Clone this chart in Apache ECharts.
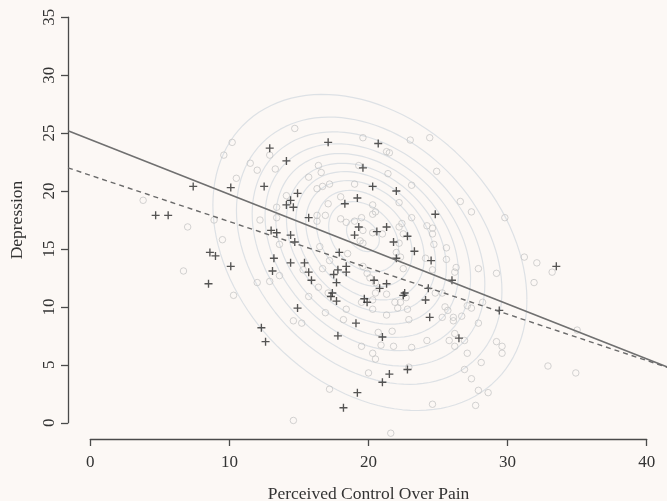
<!DOCTYPE html>
<html><head><meta charset="utf-8">
<script src="https://cdn.jsdelivr.net/npm/echarts@6/dist/echarts.min.js"></script>
<style>html,body{margin:0;padding:0;background:#fcf8f5}#c{width:667px;height:501px}</style>
</head><body><div id="c"></div>
<script>
const xTicks = [0, 10, 20, 30, 40];
const yTicks = [0, 5, 10, 15, 20, 25, 30, 35];
const xName = 'Perceived Control Over Pain';
const yName = 'Depression';
// plotting region (data units) around the axes
const xRegion = [-1.6, 41.6];
const yRegion = [-1.4, 36.4];

// dark "+" observations
const plusPoints = [[4.7,17.9],[5.6,17.9],[7.4,20.4],[8.6,14.7],[9.0,14.4],[8.5,12.0],[10.1,13.5],[10.1,20.3],[12.5,20.4],[12.9,23.7],[14.1,22.6],[14.9,19.8],[14.4,19.2],[14.1,18.8],[14.6,18.6],[15.7,17.7],[13.0,16.6],[13.4,16.4],[14.4,16.2],[14.7,15.6],[13.2,14.2],[14.4,13.8],[15.4,13.8],[13.1,13.1],[15.7,13.0],[15.9,12.3],[14.9,9.9],[12.3,8.2],[12.6,7.0],[17.1,24.2],[20.7,24.1],[19.6,22.0],[20.3,20.4],[22.0,20.0],[19.2,19.4],[18.3,18.9],[24.8,18.0],[19.3,16.9],[21.3,16.9],[19.0,16.2],[20.6,16.5],[22.8,16.1],[21.8,15.6],[23.3,14.8],[17.9,14.7],[22.0,14.2],[24.5,14.0],[18.4,13.5],[18.4,13.0],[17.8,13.2],[17.5,12.8],[17.7,12.1],[20.4,12.3],[21.3,12.0],[20.8,11.6],[17.4,11.2],[17.3,10.9],[17.7,10.5],[19.7,10.7],[19.9,10.4],[22.6,11.2],[22.5,11.0],[24.1,10.6],[24.3,11.6],[26.0,12.3],[24.4,9.1],[26.5,7.3],[29.4,9.7],[33.5,13.5],[19.1,8.6],[17.8,7.5],[21.0,7.4],[21.5,4.2],[22.8,4.6],[21.0,3.5],[19.2,2.6],[18.2,1.3]];

// light open-circle observations
const openPoints = [[3.8,19.2],[7.0,16.9],[8.9,17.5],[9.6,23.1],[9.5,15.8],[6.7,13.1],[10.2,24.2],[14.7,25.4],[12.9,23.1],[11.5,22.4],[12.0,21.8],[13.3,21.9],[10.5,21.1],[14.1,19.6],[13.4,18.6],[15.7,21.2],[13.4,17.7],[12.2,17.5],[13.6,15.4],[10.3,11.0],[12.0,12.1],[12.9,12.2],[13.6,12.7],[14.6,8.8],[15.2,8.6],[14.6,0.2],[17.2,2.9],[19.6,24.6],[23.0,24.4],[24.4,24.6],[21.3,23.4],[21.5,23.3],[16.4,22.2],[19.3,22.2],[16.6,21.6],[21.4,21.5],[24.9,21.7],[16.3,20.2],[16.7,20.4],[17.2,20.6],[19.0,20.6],[23.1,20.5],[18.0,19.5],[22.2,19.0],[17.1,18.9],[20.3,18.8],[20.5,18.2],[20.3,18.0],[16.3,17.9],[16.9,17.9],[16.3,17.4],[18.0,17.6],[18.4,17.3],[19.5,17.7],[19.0,17.4],[23.1,17.7],[24.2,17.0],[24.6,16.8],[22.4,17.2],[22.2,16.9],[19.6,16.6],[20.3,16.4],[21.0,16.3],[22.5,16.3],[24.6,16.3],[19.4,15.7],[19.6,15.5],[22.2,15.5],[24.7,15.4],[16.5,15.2],[18.5,14.6],[22.0,14.7],[22.3,14.3],[25.6,15.1],[25.6,14.1],[17.2,14.0],[19.6,13.5],[22.5,13.3],[24.1,14.2],[26.6,19.1],[27.4,18.2],[29.8,17.7],[31.2,14.3],[32.1,13.8],[33.2,13.0],[31.9,12.1],[27.9,13.3],[29.2,12.9],[26.3,13.4],[26.2,13.0],[24.6,13.2],[24.8,11.2],[25.3,11.2],[25.5,10.0],[25.7,9.7],[27.1,10.1],[27.4,9.9],[28.2,10.4],[26.7,9.2],[26.1,9.1],[26.1,8.8],[25.3,9.1],[27.9,8.6],[26.2,7.7],[25.8,7.1],[24.2,7.1],[26.2,6.6],[26.9,7.1],[29.2,7.0],[29.6,6.6],[29.6,6.0],[27.1,6.0],[28.1,5.2],[32.9,4.9],[34.9,4.3],[35.0,8.0],[26.9,4.6],[27.4,3.8],[27.9,2.8],[28.6,2.6],[24.6,1.6],[27.7,1.5],[15.3,13.2],[16.7,13.3],[16.4,11.7],[15.7,10.9],[17.1,11.2],[16.9,9.5],[18.2,8.9],[19.9,12.9],[20.1,12.5],[20.5,12.1],[20.5,11.2],[21.3,11.1],[21.9,10.4],[22.3,10.4],[22.7,10.8],[22.1,9.9],[22.8,9.8],[20.3,10.6],[19.5,10.4],[20.3,9.8],[18.4,9.8],[21.3,9.3],[22.9,8.9],[20.7,7.8],[21.7,7.9],[20.9,6.7],[19.5,6.6],[21.8,6.6],[23.1,6.5],[20.3,6.0],[20.5,5.5],[20.0,4.3],[22.9,4.8],[21.6,-0.9]];

// fitted lines (end points across the plotting region)
const solidLine = [[-1.6, 25.2], [41.6, 4.76]];
const dashedLine = [[-1.6, 22.0], [41.6, 4.73]];

// density contour rings (outer to inner): size, centre
const ringRadius = [2.20, 1.86, 1.63, 1.44, 1.28, 1.12, 0.98, 0.83, 0.67, 0.49, 0.23];
const ringCx = [20.1, 20.05, 20.0, 19.95, 19.9, 19.85, 19.8, 19.75, 19.7, 19.65, 19.6];
const ringCy = [14.7, 14.85, 15.0, 15.15, 15.3, 15.45, 15.6, 15.75, 15.9, 16.05, 16.2];
const ringSD = [5.13, 6.2];
const ringRho = -0.3;

function ring(k) {
  const pts = [], n = 120, r = ringRadius[k];
  for (let i = 0; i <= n; i++) {
    const t = i / n * 2 * Math.PI;
    pts.push([
      ringCx[k] + r * ringSD[0] * Math.cos(t),
      ringCy[k] + r * ringSD[1] * (ringRho * Math.cos(t) + Math.sqrt(1 - ringRho * ringRho) * Math.sin(t))
    ]);
  }
  return pts;
}

const font = 'Liberation Serif';
const axisCol = '#4a4a4a';
const series = [];
ringRadius.forEach((r, k) => series.push({
  type: 'line', data: ring(k), showSymbol: false, silent: true,
  lineStyle: { color: '#dde1e5', width: 1.2 }, z: 1
}));
series.push({
  type: 'scatter', data: openPoints, symbol: 'circle', symbolSize: 6.5,
  itemStyle: { color: 'rgba(0,0,0,0)', borderColor: '#c2c2c2', borderWidth: 0.9 }, z: 2
});
series.push({
  type: 'scatter', data: plusPoints, symbol: 'path://M5,0L5,10M0,5L10,5', symbolSize: 8,
  itemStyle: { color: 'rgba(0,0,0,0)', borderColor: '#2a2a2a', borderWidth: 1.35 }, z: 3
});
series.push({
  type: 'line', data: solidLine, showSymbol: false,
  lineStyle: { color: '#707070', width: 1.6 }, z: 4
});
series.push({
  type: 'line', data: dashedLine, showSymbol: false,
  lineStyle: { color: '#6a6a6a', width: 1.4, type: [5, 4] }, z: 4
});

const hidden = { show: false };
const chart = echarts.init(document.getElementById('c'), null, { renderer: 'canvas' });
chart.setOption({
  backgroundColor: '#fcf8f5',
  animation: false,
  grid: [
    { left: 68, top: 1, width: 601, height: 438, outerBoundsMode: 'none', containLabel: false },
    { left: 90.3, top: 420, width: 556.4, height: 19, outerBoundsMode: 'none', containLabel: false },
    { left: 68, top: 17.2, width: 20, height: 405.6, outerBoundsMode: 'none', containLabel: false }
  ],
  xAxis: [
    { gridIndex: 0, type: 'value', min: xRegion[0], max: xRegion[1], show: false },
    {
      gridIndex: 1, type: 'value', min: xTicks[0], max: xTicks[xTicks.length - 1], interval: 10,
      position: 'bottom', splitLine: hidden,
      axisLine: { onZero: false, lineStyle: { color: axisCol, width: 1.3 } },
      axisTick: { length: 7, lineStyle: { color: axisCol, width: 1.3 } },
      axisLabel: { margin: 15, fontFamily: font, fontSize: 17, color: '#333' },
      name: xName, nameLocation: 'middle', nameGap: 46,
      nameTextStyle: { fontFamily: font, fontSize: 17.5, color: '#333' }
    },
    { gridIndex: 2, type: 'value', min: 0, max: 1, show: false }
  ],
  yAxis: [
    { gridIndex: 0, type: 'value', min: yRegion[0], max: yRegion[1], show: false },
    { gridIndex: 1, type: 'value', min: 0, max: 1, show: false },
    {
      gridIndex: 2, type: 'value', min: yTicks[0], max: yTicks[yTicks.length - 1], interval: 5,
      position: 'left', splitLine: hidden,
      axisLine: { onZero: false, lineStyle: { color: axisCol, width: 1.3 } },
      axisTick: { inside: false, length: 7, lineStyle: { color: axisCol, width: 1.3 } },
      axisLabel: { margin: 10, rotate: 90, fontFamily: font, fontSize: 17, color: '#333' },
      name: yName, nameLocation: 'middle', nameGap: 42,
      nameTextStyle: { fontFamily: font, fontSize: 17.5, color: '#333' }
    }
  ],
  series: series
});
</script></body></html>
